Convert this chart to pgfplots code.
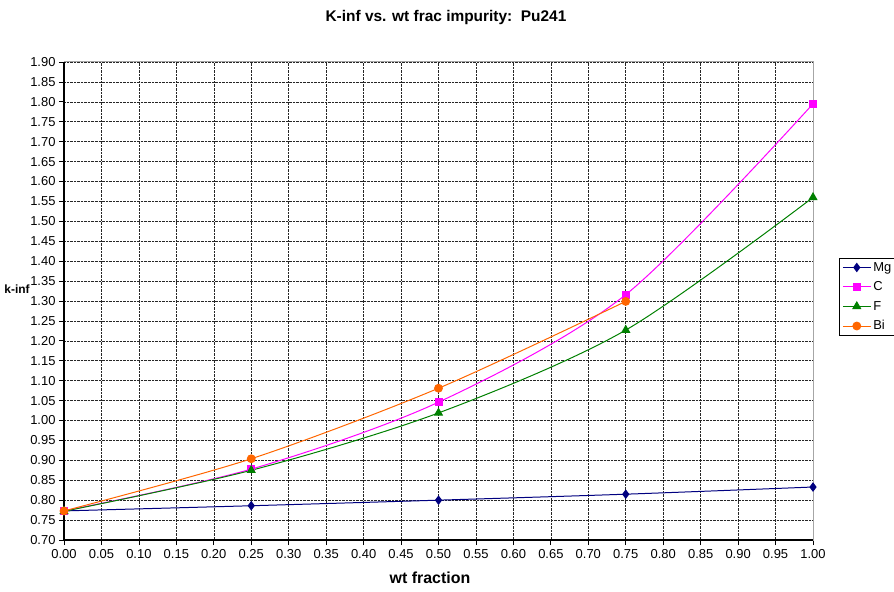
\documentclass[border=0pt]{standalone}
\usepackage{pgfplots}
\pgfplotsset{compat=1.18}
\usepackage{fontspec}
\setmainfont{Liberation Sans}
\definecolor{cMg}{RGB}{0,0,128}
\definecolor{cC}{RGB}{255,0,255}
\definecolor{cF}{RGB}{0,128,0}
\definecolor{cBi}{RGB}{255,102,0}
\begin{document}
\begin{tikzpicture}
\begin{axis}[
  at={(0bp,0bp)}, anchor=south west,
  scale only axis, width=749bp, height=478bp,
  xmin=0, xmax=1, ymin=0.70, ymax=1.90,
  xtick={0,0.05,...,1.001}, ytick={0.70,0.75,...,1.901},
  xtick pos=left, ytick pos=left,
  tick align=outside, major tick length=5bp,
  tick style={black, line width=0.8pt},
  /pgf/number format/assume math mode=true,
  /pgf/number format/.cd, fixed, fixed zerofill, precision=2, /pgfplots/.cd,
  ticklabel style={font=\fontsize{13}{15}\selectfont},
  xticklabel style={yshift=-1bp},
  yticklabel style={xshift=0bp},
  grid=major,
  major grid style={black!85, densely dotted, line width=0.6pt},
  axis line style={draw=gray!70, line width=1pt},
  clip=false,
  legend style={at={(1.0347,0.590)}, anchor=north west, draw=black, line width=0.6pt,
    font=\fontsize{13}{15}\selectfont, row sep=5bp, inner xsep=3bp, inner ysep=2bp,
    cells={anchor=west}},
  legend cell align=left,
  legend image code/.code={\draw[mark repeat=2,mark phase=2,#1] plot coordinates {(0bp,0bp)(14bp,0bp)(28bp,0bp)};},
]
\addplot[cMg, line width=1pt, smooth, mark=diamond*, mark size=4bp, mark options={solid, fill=cMg}]
  coordinates {(0,0.773) (0.25,0.786) (0.5,0.800) (0.75,0.815) (1.0,0.833)};
\addlegendentry{Mg}
\addplot[cC, line width=1pt, smooth, mark=square*, mark size=3.5bp, mark options={solid, fill=cC}]
  coordinates {(0,0.773) (0.25,0.878) (0.5,1.046) (0.75,1.316) (1.0,1.795)};
\addlegendentry{C}
\addplot[cF, line width=1pt, smooth, mark=triangle*, mark size=4.4bp, mark options={solid, fill=cF}]
  coordinates {(0,0.772) (0.25,0.875) (0.5,1.019) (0.75,1.227) (1.0,1.560)};
\addlegendentry{F}
\addplot[cBi, line width=1pt, smooth, mark=*, mark size=3.9bp, mark options={solid, fill=cBi}]
  coordinates {(0,0.773) (0.25,0.904) (0.5,1.081) (0.75,1.299)};
\addlegendentry{Bi}
\draw[black, line width=1.2pt] (rel axis cs:0,1) -- (rel axis cs:0,0) -- (rel axis cs:1,0);
\end{axis}
\node[font=\bfseries\fontsize{15.5}{18}\selectfont] at (382bp,522bp) {K-inf vs. wt frac impurity:\ \ Pu241};
\node[font=\bfseries\fontsize{16}{18}\selectfont] at (366bp,-38bp) {wt fraction};
\node[font=\bfseries\fontsize{12}{13}\selectfont] at (-47bp,251bp) {k-inf};
\pgfresetboundingbox
\path[use as bounding box] (-64bp,-52bp) rectangle (830bp,540bp);
\end{tikzpicture}
\end{document}
